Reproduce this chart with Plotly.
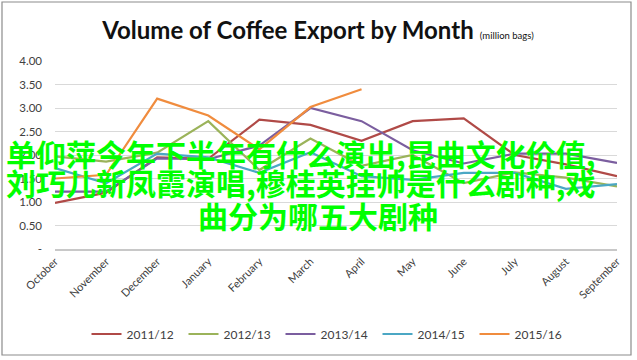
import plotly.graph_objects as go

months = ["October", "November", "December", "January", "February", "March",
          "April", "May", "June", "July", "August", "September"]
series_names = ["2011/12", "2012/13", "2013/14", "2014/15", "2015/16"]
s2011_12 = [0.98, 1.20, 1.95, 1.92, 2.75, 2.64, 2.30, 2.72, 2.78, 2.00, 1.80, 1.55]
s2012_13 = [1.97, 1.86, 2.05, 2.72, 1.68, 2.35, 1.77, 2.00, 1.40, 1.63, 1.52, 1.33]
s2013_14 = [1.22, 1.22, 1.93, 1.91, 2.20, 3.00, 2.72, 2.10, 1.82, 2.03, 2.03, 1.83]
s2014_15 = [1.72, 1.40, 2.03, 1.95, 1.62, 2.06, 1.55, 1.47, 1.62, 1.62, 1.28, 1.38]
s2015_16 = [1.50, 1.58, 3.20, 2.84, 2.12, 3.02, 3.40, None, None, None, None, None]
colors = ["#B04A47", "#9BB35A", "#7B5E9F", "#4BA7C4", "#F08C3E"]

ytick_vals = [0, 0.5, 1.0, 1.5, 2.0, 2.5, 3.0, 3.5, 4.0]
ytick_text = ["-", "0.50", "1.00", "1.50", "2.00", "2.50", "3.00", "3.50", "4.00"]

overlay_lines = ["单仰萍今年下半年有什么演出,昆曲文化价值,",
                 "刘巧儿新凤霞演唱,穆桂英挂帅是什么剧种,戏",
                 "曲分为哪五大剧种"]

fig = go.Figure()
for name, vals, col in zip(series_names, [s2011_12, s2012_13, s2013_14, s2014_15, s2015_16], colors):
    fig.add_trace(go.Scatter(x=months, y=vals, name=name, mode="lines",
                             line=dict(color=col, width=2.2)))

W, H = 637, 360
L, R, T, B = 55, 20, 61, 111
pw, ph = W - L - R, H - T - B

def px_x(p):
    return (p - L) / pw

def px_y(p):
    return (H - B - p) / ph

fig.update_layout(
    width=W, height=H,
    margin=dict(l=L, r=R, t=T, b=B),
    paper_bgcolor="white", plot_bgcolor="white",
    font=dict(family="Lato, Open Sans, sans-serif", color="#595959", size=11),
    title=dict(
        text="<b>Volume of Coffee Export by Month</b> <span style='font-size:9.5px'>(million bags)</span>",
        x=318 / W, xanchor="center", y=1 - 31 / H, yanchor="middle",
        font=dict(family="Lato, sans-serif", size=24, color="#111111")),
    xaxis=dict(type="category", tickangle=-45, showgrid=False,
               showline=True, linecolor="#C8C8C8", linewidth=1.5,
               ticks="", tickfont=dict(size=11, color="#404040")),
    yaxis=dict(range=[0, 4], tickvals=ytick_vals, ticktext=ytick_text,
               showgrid=True, gridcolor="#D9D9D9", gridwidth=1,
               zeroline=False, showline=False, ticks="",
               ticklabelstandoff=12,
               tickfont=dict(size=11.5, color="#404040")),
    legend=dict(orientation="h", x=px_x(329), xanchor="center",
                y=px_y(334), yanchor="middle",
                font=dict(size=12, color="#404040"),
                itemwidth=30, entrywidth=52, entrywidthmode="pixels"),
    showlegend=True,
)

fig.add_shape(type="rect", xref="paper", yref="paper",
              x0=px_x(2), x1=px_x(631), y0=px_y(355), y1=px_y(2),
              line=dict(color="#8C8C8C", width=1.2), layer="below")

ov_font = dict(family="Noto Sans CJK SC", size=30, color="#00FF00")
fig.add_annotation(text="<b>" + overlay_lines[0] + "</b>", xref="paper", yref="paper",
                   x=px_x(4), xanchor="left", y=px_y(153), yanchor="middle",
                   showarrow=False, font=ov_font)
fig.add_annotation(text="<b>" + overlay_lines[1] + "</b>", xref="paper", yref="paper",
                   x=px_x(4), xanchor="left", y=px_y(182), yanchor="middle",
                   showarrow=False, font=ov_font)
fig.add_annotation(text="<b>" + overlay_lines[2] + "</b>", xref="paper", yref="paper",
                   x=px_x(318), xanchor="center", y=px_y(215), yanchor="middle",
                   showarrow=False, font=ov_font)

fig.write_html("out.html")
